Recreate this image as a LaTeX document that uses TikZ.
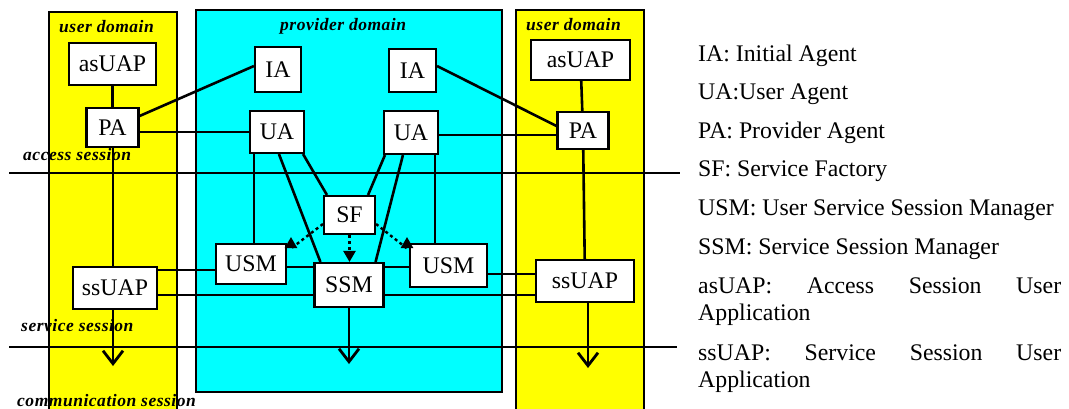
\documentclass[tikz,border=0pt]{standalone}
\usepackage{fontspec}
\setmainfont{Liberation Serif}
\newfontfamily\domfont[LetterSpace=3]{Liberation Serif}
\usetikzlibrary{arrows.meta,calc}
\definecolor{userzone}{RGB}{255,255,0}
\definecolor{provzone}{RGB}{0,255,255}
\begin{document}
\begin{tikzpicture}[x=1pt,y=-1pt,
  box/.style={draw,line width=2.1pt,fill=white,inner sep=0pt,font=\fontsize{23.8}{24}\selectfont},
  link/.style={line width=2.6pt},
  flow/.style={line width=2.6pt,-{Straight Barb[length=13pt,width=20pt,line width=2.8pt]}},
  ctrl/.style={line width=2.4pt,dash pattern=on 3pt off 3pt,-{Triangle[length=11pt,width=12pt]}},
  zone/.style={draw,line width=1.6pt},
  session/.style={line width=1.3pt},
  dlabel/.style={anchor=base west,inner sep=0pt,font=\domfont\bfseries\itshape\fontsize{17.5}{17.5}\selectfont},
  legend/.style={anchor=base west,inner sep=0pt,font=\fontsize{23.8}{24}\selectfont}]
\useasboundingbox (0,0) rectangle (1069,408);

% domains
\draw[zone,fill=userzone] (49,12) rectangle (177,414);
\draw[zone,fill=provzone] (196,10) rectangle (502,392);
\draw[zone,fill=userzone] (516,10) rectangle (644,414);

\node[dlabel] (udl) at (59,32.5) {user domain};
\node[dlabel] (pd) at (280,30.5) {provider domain};
\node[dlabel] (udr) at (526,30.5) {user domain};

% session boundaries
\coordinate (s1a) at (9,173);   \coordinate (s1b) at (680,173);
\coordinate (s2a) at (9,347);   \coordinate (s2b) at (677,347);
\draw[session] (s1a) -- (s1b);
\draw[session] (s2a) -- (s2b);
\node[dlabel] (as) at (23,160) {access session};
\node[dlabel] (ss) at (21,331) {service session};
\node[dlabel] (cs) at (17,406) {communication session};

% components
\node[box,minimum width=87pt,minimum height=42pt] (asUAPL) at (112.5,64) {asUAP};
\node[box,minimum width=52pt,minimum height=39pt] (PAL) at (112.5,127.5) {PA};
\node[box,minimum width=46pt,minimum height=45pt] (IAL) at (278,69.5) {IA};
\node[box,minimum width=54pt,minimum height=42pt] (UAL) at (277,132) {UA};
\node[box,minimum width=47pt,minimum height=43pt] (IAR) at (412.5,70.5) {IA};
\node[box,minimum width=54pt,minimum height=43pt] (UAR) at (411,132.5) {UA};
\node[box,minimum width=99pt,minimum height=40pt] (asUAPR) at (580.5,60) {asUAP};
\node[box,minimum width=51pt,minimum height=37pt] (PAR) at (583,130.5) {PA};
\node[box,minimum width=51pt,minimum height=38pt] (SF) at (349.5,215) {SF};
\node[box,minimum width=70pt,minimum height=40pt] (USML) at (251,264) {USM};
\node[box,minimum width=69pt,minimum height=44pt] (SSM) at (349,285) {SSM};
\node[box,minimum width=77pt,minimum height=43pt] (USMR) at (448.5,265.5) {USM};
\node[box,minimum width=84pt,minimum height=42pt] (ssUAPL) at (115,288) {ssUAP};
\node[box,minimum width=98pt,minimum height=42pt] (ssUAPR) at (585,281) {ssUAP};

% free ends of the flows
\coordinate (endL) at (113,366);
\coordinate (endM) at (349,364);
\coordinate (endR) at (588,368);
\coordinate (tipL) at (291,237);
\coordinate (tipR) at (407,237);

% attachment points on the boxes
\coordinate (paIA) at ($(PAL.east)+(0,-11.5)$);
\coordinate (iaPA) at ($(IAL.west)+(0,-3.5)$);
\coordinate (ua1) at ($(UAL.south west)+(5,0)$);
\coordinate (ua2) at ($(UAL.south west)+(30,0)$);
\coordinate (ua3) at ($(UAL.south east)+(-2,0)$);
\coordinate (ub1) at ($(UAR.south west)+(2,0)$);
\coordinate (ub2) at ($(UAR.south west)+(20,0)$);
\coordinate (ub3) at ($(UAR.south east)+(-4,0)$);
\coordinate (ubPA) at ($(UAR.east)+(0,2.5)$);
\coordinate (ibPA) at ($(IAR.east)+(0,-4.5)$);
\coordinate (pbIA) at ($(PAR.west)+(0,-4.5)$);
\coordinate (usmL1) at ($(USML.west)+(0,6)$);
\coordinate (usmL2) at ($(USML.east)+(0,3)$);
\coordinate (ssmL) at ($(SSM.west)+(0,10)$);
\coordinate (ssmR1) at ($(SSM.east)+(0,-18)$);
\coordinate (ssmR2) at ($(SSM.east)+(0,10)$);
\coordinate (usmR1) at ($(USMR.east)+(0,8.5)$);
\coordinate (sfL) at ($(SF.west)+(0,9)$);
\coordinate (sfR) at ($(SF.east)+(0,9)$);
\coordinate (kneeL) at ($(tipL)+(0,11.5)$);
\coordinate (kneeR) at ($(tipR)+(0,11.5)$);

% connectors
\draw[link] (asUAPL) -- (PAL);
\draw[link] (paIA) -- (iaPA);
\draw[link] (PAL.east |- UAL.west) -- (UAL.west);
\draw[link] (PAL.south -| endL) -- (ssUAPL.north -| endL);
\draw[flow] (ssUAPL.south -| endL) -- (endL);

\draw[link] (ua1) -- (ua1 |- USML.north);
\draw[link] (ua2) -- ($(SSM.north west)+(7,0)$);
\draw[link] (ua3) -- ($(SF.north west)+(4,0)$);

\draw[link] (ub1) -- ($(SF.north east)+(-8,0)$);
\draw[link] (ub2) -- ($(SSM.north east)+(-9,0)$);
\draw[link] (ub3) -- (ub3 |- USMR.north);
\draw[link] (ubPA) -- (ubPA -| PAR.west);
\draw[link] (ibPA) -- (pbIA);
\draw[link] (asUAPR) -- (PAR);
\draw[link] (PAR) -- (ssUAPR);
\draw[flow] (ssUAPR.south -| endR) -- (endR);

\draw[link] (usmL1) -- (usmL1 -| ssUAPL.east);
\draw[link] (usmL2) -- (usmL2 -| SSM.west);
\draw[link] (ssmL) -- (ssmL -| ssUAPL.east);
\draw[link] (ssmR1) -- (ssmR1 -| USMR.west);
\draw[link] (ssmR2) -- (ssmR2 -| ssUAPR.west);
\draw[link] (usmR1) -- (usmR1 -| ssUAPR.west);
\draw[flow] (SSM.south -| endM) -- (endM);

% creation requests from the service factory
\draw[ctrl] (sfL) -- (kneeL) -- (tipL);
\draw[ctrl] (SF.south) -- (SSM.north -| SF.south);
\draw[ctrl] (sfR) -- (kneeR) -- (tipR);

% legend
\node[legend] (l1) at (698,61) {IA: Initial Agent};
\node[legend] (l2) at (698,99.5) {UA:User Agent};
\node[legend] (l3) at (698,138) {PA: Provider Agent};
\node[legend] (l4) at (698,176.5) {SF: Service Factory};
\node[legend] (l5) at (698,215) {USM: User Service Session Manager};
\node[legend] (l6) at (698,254) {SSM: Service Session Manager};
\node[legend] (l7) at (698,293) {\makebox[363pt][l]{asUAP:\hfill Access\hfill Session\hfill User}};
\node[legend] (l8) at (698,320) {Application};
\node[legend] (l9) at (698,360) {\makebox[363pt][l]{ssUAP:\hfill Service\hfill Session\hfill User}};
\node[legend] (l10) at (698,387) {Application};
\end{tikzpicture}
\end{document}
